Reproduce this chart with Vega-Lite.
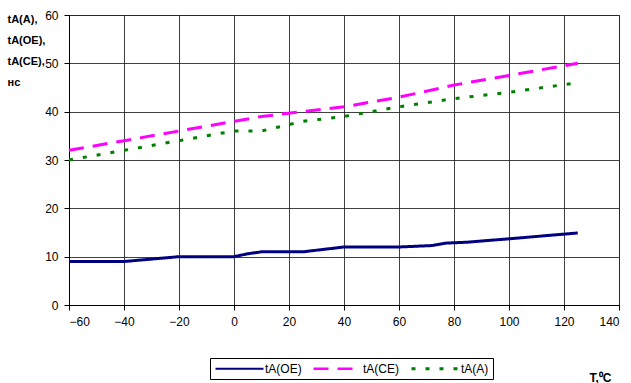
{
  "$schema": "https://vega.github.io/schema/vega-lite/v6.json",
  "width": 550,
  "height": 290,
  "autosize": "none",
  "padding": {"left": 69, "top": 15, "right": 12, "bottom": 78},
  "background": "white",
  "config": {
    "font": "Liberation Sans",
    "view": {"stroke": "#606060", "strokeWidth": 1},
    "axis": {
      "labelFont": "Liberation Sans",
      "labelFontSize": 12,
      "labelColor": "#000000",
      "domainColor": "#000000",
      "domainWidth": 1,
      "tickColor": "#000000",
      "tickSize": 5,
      "gridColor": "#202020",
      "gridWidth": 1,
      "gridOpacity": 0.85,
      "titleFont": "Liberation Sans",
      "titleFontWeight": "bold",
      "titleColor": "#000000"
    }
  },
  "data": {
    "values": [
      {"T": -60, "t": 9, "s": "tA(OE)"},
      {"T": -40, "t": 9, "s": "tA(OE)"},
      {"T": -20, "t": 10, "s": "tA(OE)"},
      {"T": 0, "t": 10, "s": "tA(OE)"},
      {"T": 5, "t": 10.6, "s": "tA(OE)"},
      {"T": 10, "t": 11, "s": "tA(OE)"},
      {"T": 25, "t": 11, "s": "tA(OE)"},
      {"T": 40, "t": 12, "s": "tA(OE)"},
      {"T": 60, "t": 12, "s": "tA(OE)"},
      {"T": 72, "t": 12.3, "s": "tA(OE)"},
      {"T": 77, "t": 12.8, "s": "tA(OE)"},
      {"T": 85, "t": 13, "s": "tA(OE)"},
      {"T": 100, "t": 13.7, "s": "tA(OE)"},
      {"T": 125, "t": 14.9, "s": "tA(OE)"},

      {"T": -60, "t": 32, "s": "tA(CE)"},
      {"T": -40, "t": 34, "s": "tA(CE)"},
      {"T": -20, "t": 36, "s": "tA(CE)"},
      {"T": 0, "t": 38, "s": "tA(CE)"},
      {"T": 10, "t": 39, "s": "tA(CE)"},
      {"T": 25, "t": 40, "s": "tA(CE)"},
      {"T": 40, "t": 41, "s": "tA(CE)"},
      {"T": 60, "t": 43, "s": "tA(CE)"},
      {"T": 80, "t": 45.5, "s": "tA(CE)"},
      {"T": 100, "t": 47.5, "s": "tA(CE)"},
      {"T": 125, "t": 50, "s": "tA(CE)"},

      {"T": -60, "t": 30, "s": "tA(A)"},
      {"T": -40, "t": 32, "s": "tA(A)"},
      {"T": -20, "t": 34, "s": "tA(A)"},
      {"T": 0, "t": 36, "s": "tA(A)"},
      {"T": 10, "t": 36, "s": "tA(A)"},
      {"T": 25, "t": 38, "s": "tA(A)"},
      {"T": 40, "t": 39, "s": "tA(A)"},
      {"T": 60, "t": 41, "s": "tA(A)"},
      {"T": 80, "t": 42.7, "s": "tA(A)"},
      {"T": 100, "t": 44, "s": "tA(A)"},
      {"T": 125, "t": 46, "s": "tA(A)"}
    ]
  },
  "mark": {"type": "line", "strokeWidth": 3, "strokeCap": "butt"},
  "encoding": {
    "x": {
      "field": "T",
      "type": "quantitative",
      "scale": {"domain": [-60, 140], "nice": false, "zero": false},
      "axis": {
        "values": [-60, -40, -20, 0, 20, 40, 60, 80, 100, 120, 140],
        "labelPadding": 6,
        "title": "T,⁰C",
        "titleFontSize": 12,
        "titleAnchor": null,
        "titleAlign": "center",
        "titleBaseline": "alphabetic",
        "titleX": 531,
        "titleY": 76
      }
    },
    "y": {
      "field": "t",
      "type": "quantitative",
      "scale": {"domain": [0, 60], "nice": false},
      "axis": {
        "values": [0, 10, 20, 30, 40, 50, 60],
        "labelPadding": 6,
        "title": ["tA(A),", "tA(OE),", "tA(CE),", "нс"],
        "titleFontSize": 11,
        "titleAngle": 0,
        "titleAlign": "left",
        "titleBaseline": "alphabetic",
        "titleLineHeight": 21,
        "titleAnchor": null,
        "titleX": -62,
        "titleY": 7
      }
    },
    "color": {
      "field": "s",
      "type": "nominal",
      "sort": null,
      "scale": {
        "domain": ["tA(OE)", "tA(CE)", "tA(A)"],
        "range": ["#000080", "#FF00FF", "#008000"]
      },
      "legend": {
        "title": null,
        "orient": "none",
        "direction": "horizontal",
        "legendX": 141,
        "legendY": 343,
        "symbolType": "M-1,0H8.6",
        "symbolSize": 100,
        "symbolStrokeWidth": 3,
        "labelFont": "Liberation Sans",
        "labelFontSize": 12,
        "labelColor": "#000000",
        "labelOffset": 38,
        "columnPadding": 6,
        "padding": 4,
        "strokeColor": "#000000",
        "fillColor": "#ffffff"
      }
    },
    "strokeDash": {
      "field": "s",
      "type": "nominal",
      "sort": null,
      "scale": {
        "domain": ["tA(OE)", "tA(CE)", "tA(A)"],
        "range": [[1, 0], [15, 9], [4, 10]]
      },
      "legend": null
    },
    "strokeWidth": {
      "field": "s",
      "type": "nominal",
      "scale": {
        "domain": ["tA(OE)", "tA(CE)", "tA(A)"],
        "range": [2.2, 3, 3.5]
      },
      "legend": null
    }
  }
}
